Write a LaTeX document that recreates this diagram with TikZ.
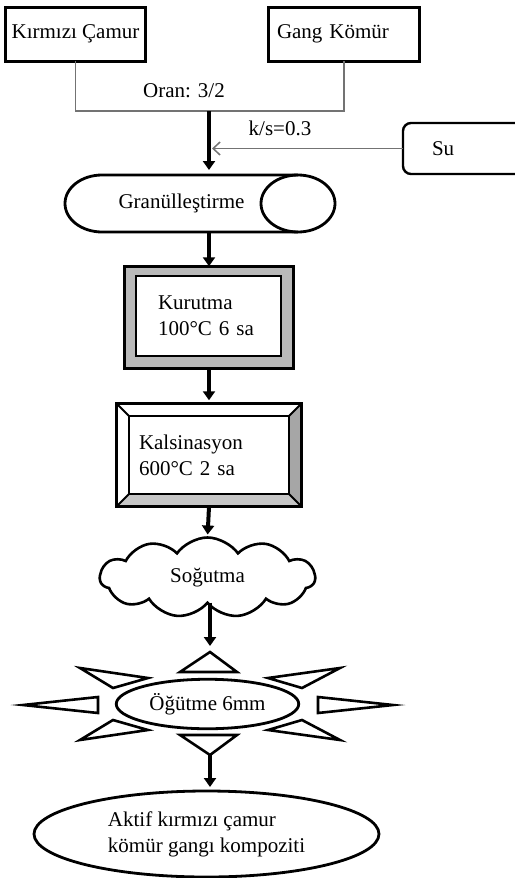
\documentclass[tikz,border=0pt]{standalone}
\usepackage{fontspec}
\setmainfont{Liberation Serif}
\usetikzlibrary{arrows.meta,positioning,calc,shapes.geometric,shapes.symbols}

\begin{document}
\begin{tikzpicture}[x=1pt,y=-1pt,
  every node/.style={font=\fontsize{21}{26}\selectfont,outer sep=0pt},
  bx/.style={draw,line width=3pt,inner sep=0pt,align=center},
  fr/.style={inner sep=0pt},
  ar/.style={line width=4pt,-{Triangle[length=9pt,width=12pt]}},
  ln/.style={draw=black!55,line width=1.3pt},
  ray/.style={draw,line width=2.6pt,line join=miter,fill=white}]
 \useasboundingbox (0,0) rectangle (514,878);
 \node[bx,minimum width=140pt,minimum height=54pt] (kc) at (75.5,34) {Kırmızı Çamur};
 \node[bx,minimum width=151pt,minimum height=54pt,text width=134pt,align=left] (gk) at (344,34) {Gang Kömür};
 \coordinate (mix) at (209,111);
 \draw[ln] (kc.south) |- (mix) -| (gk.south);
 \node (oran) at (184,91) {Oran: 3/2};
 \node[draw,line width=2.4pt,rounded corners=8pt,minimum width=137pt,minimum height=51pt,inner xsep=29pt,text width=79pt,align=left] (su) at (471.5,148.5) {Su};
 \node (ks) at (280,128) {k/s=0.3};
 % Granulleştirme
 \draw[line width=2.8pt,fill=white] (102,175) -- (298,175) arc[start angle=90,end angle=-90,x radius=37pt,y radius=28.5pt] -- (102,232) arc[start angle=270,end angle=90,x radius=37pt,y radius=28.5pt] -- cycle;
 \draw[line width=2.8pt] (298,175) arc[start angle=90,end angle=270,x radius=37pt,y radius=28.5pt];
 \node[fr,minimum width=233pt,minimum height=57pt] (gran) at (181.5,203.5) {Granülleştirme};
 \draw[ar,shorten >=5pt] (mix) -- (mix |- gran.north);
 \draw[draw=black!55,line width=1.5pt,shorten >=3pt,-{Straight Barb[length=7pt,width=13pt]}] (su.west) -- (su.west -| mix);
 % Kurutma
 \node[bx,line width=2.8pt,fill=gray!55,minimum width=169.5pt,minimum height=102.5pt] (kur) at (209,317.5) {};
 \node[bx,line width=2.4pt,fill=white,minimum width=145pt,minimum height=80pt,inner xsep=22pt,text width=101pt,align=left] (kurin) at (208.5,316) {Kurutma\\100°C 6 sa};
 % Kalsinasyon
 \node[fr,minimum width=185.5pt,minimum height=103.5pt] (kal) at (209,455) {};
 \node[fr,minimum width=160pt,minimum height=78pt,inner xsep=10pt,text width=140pt,align=left] (kalin) at (209,455) {Kalsinasyon\\600°C 2 sa};
 \fill[gray!70] (kal.north east) -- (kal.south east) -- (kalin.south east) -- (kalin.north east) -- cycle;
 \fill[gray!45] (kal.south west) -- (kal.south east) -- (kalin.south east) -- (kalin.south west) -- cycle;
 \draw[line width=1.8pt] (kal.north west) -- (kalin.north west) (kal.north east) -- (kalin.north east)
   (kal.south west) -- (kalin.south west) (kal.south east) -- (kalin.south east);
 \draw[line width=2.4pt] (kalin.north west) rectangle (kalin.south east);
 \draw[line width=3pt] (kal.north west) rectangle (kal.south east);
 \draw[ar] (gran.south -| kur.north) -- (kur.north);
 \draw[ar,shorten >=3pt] (kur.south) -- (kal.north);
 % Sogutma
 \node[cloud,draw,line width=2.6pt,cloud puffs=11,cloud puff arc=110,aspect=2.7,minimum width=215pt,minimum height=80pt,inner sep=0pt] (sog) at (207.5,577.5) {Soğutma};
 \draw[ar,shorten >=3pt] (kal.south) -- (sog.north);
 % Ogutme
 \foreach \ax/\ay/\bx/\by/\cx/\cy in {210/652/180/672/237/672, 210/755/180/735/237/735,
   23/705/98/697/98/713, 393/705/318/697/318/713, 80/668/148/678/113/688,
   340/668/268/678/302/688, 80/740/148/730/113/720, 340/740/268/730/302/720}
   \draw[ray] (\ax,\ay) -- (\bx,\by) -- (\cx,\cy) -- cycle;
 \node[ellipse,draw,line width=2.8pt,fill=white,minimum width=182.5pt,minimum height=49.5pt,inner sep=0pt] (ogt) at (207.5,704) {Öğütme 6mm};
 \coordinate (rt) at (210,652);
 \coordinate (rb) at (210,755);
 \draw[ar,shorten >=6pt] (sog.south -| rt) -- (rt);
 \node[ellipse,draw,line width=2.8pt,minimum width=345pt,minimum height=86pt,inner sep=0pt,align=left] (akt) at (206.5,834) {Aktif kırmızı çamur\\kömür gangı kompoziti};
 \draw[ar,shorten >=4pt] (rb) -- (rb |- akt.north);
\end{tikzpicture}
\end{document}
